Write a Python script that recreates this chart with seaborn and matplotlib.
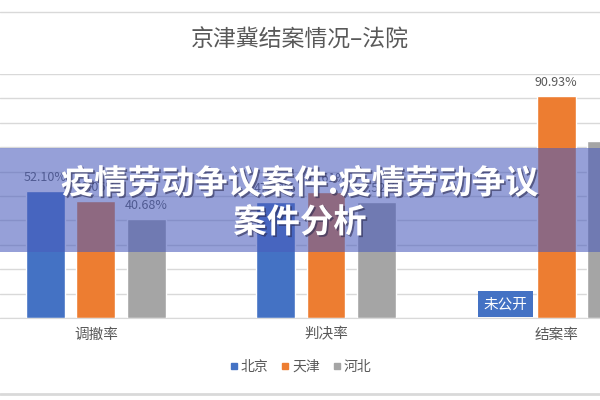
import matplotlib

matplotlib.use("Agg")

import matplotlib.patheffects as pe
import matplotlib.pyplot as plt
import numpy as np
import pandas as pd
import seaborn as sns
from matplotlib.lines import Line2D
from matplotlib.patches import Rectangle

# ---- data ----
categories = ["调撤率", "判决率", "结案率"]
regions = ["北京", "天津", "河北"]
beijing = [52.10, 47.72, 0.0]  # 结案率: 未公开
tianjin = [48.06, 51.61, 90.93]
hebei = [40.68, 47.52, 72.55]
beijing_labels = ["52.10%", "47.72%", ""]
tianjin_labels = ["48.06%", "51.61%", "90.93%"]
hebei_labels = ["40.68%", "47.52%", "72.55%"]
colors = ["#4472C4", "#ED7D31", "#A5A5A5"]

df = pd.DataFrame(
    {
        "类别": categories * 3,
        "地区": np.repeat(regions, len(categories)),
        "比率": beijing + tianjin + hebei,
    }
)

sns.set_style("white")
plt.rcParams["font.family"] = ["Noto Sans CJK SC", "DejaVu Sans"]

fig = plt.figure(figsize=(6, 4), dpi=100)
ax = fig.add_axes([0, 0.205, 1, 0.61])

sns.barplot(
    data=df, x="类别", y="比率", hue="地区", palette=colors,
    width=0.66, gap=0.23, saturation=1, ax=ax, legend=False,
)

# data labels
for cont, labels in zip(ax.containers, [beijing_labels, tianjin_labels, hebei_labels]):
    ax.bar_label(cont, labels=labels, padding=5, fontsize=9, color="#595959")

# Beijing 结案率 not published -> boxed label at its bar position
nb = ax.containers[0][2]
ax.text(nb.get_x() + nb.get_width() / 2, 2.8, "未公开", ha="center", va="bottom",
        fontsize=10.5, color="white",
        bbox=dict(boxstyle="square,pad=0.4", fc="#4472C4", ec="none"))

ax.set_xlim(-0.417, 2.191)
ax.set_ylim(0, 100)
ax.set_yticks(np.arange(0, 101, 10))
ax.set_yticklabels([])
ax.tick_params(axis="y", length=0)
ax.tick_params(axis="x", length=0, pad=7, labelsize=10.5, labelcolor="#595959")
ax.set_xlabel("")
ax.set_ylabel("")
ax.grid(axis="y", color="#D9D9D9", linewidth=1)
ax.set_axisbelow(True)
for side in ["top", "right", "left"]:
    ax.spines[side].set_visible(False)
ax.spines["bottom"].set_color("#D9D9D9")

# legend
handles = [Line2D([], [], marker="s", linestyle="", color=c, markersize=5) for c in colors]
fig.legend(handles, regions, loc="center", bbox_to_anchor=(0.5, 1 - 367 / 400),
           ncol=3, frameon=False, fontsize=10, labelcolor="#595959",
           handletextpad=0.1, columnspacing=0.8, handlelength=0.8)

# title
fig.text(0.5, 1 - 40 / 400, "京津冀结案情况–法院", ha="center", va="center",
         fontsize=16.5, color="#595959", fontweight="light")

# chart frame lines
fig.add_artist(Line2D([0, 1], [1 - 12 / 400] * 2, color="#D9D9D9", linewidth=1))
fig.add_artist(Line2D([0, 1], [1 - 394 / 400] * 2, color="#D9D9D9", linewidth=2))

# overlay banner
fig.add_artist(Rectangle((0, 1 - 252 / 400), 1, 104 / 400, transform=fig.transFigure,
                         facecolor="#4A5CBC", alpha=0.58, edgecolor="none", zorder=5))
shadow = [pe.withSimplePatchShadow(offset=(1.2, -1.2), shadow_rgbFace="#2A2A50", alpha=0.6)]
fig.text(0.5, 1 - 184 / 400, "疫情劳动争议案件:疫情劳动争议", ha="center", va="center",
         fontsize=24, fontweight="black", color="white", zorder=6, path_effects=shadow)
fig.text(0.5, 1 - 223 / 400, "案件分析", ha="center", va="center",
         fontsize=24, fontweight="black", color="white", zorder=6, path_effects=shadow)

fig.savefig("out.png", dpi=100)
plt.close(fig)
